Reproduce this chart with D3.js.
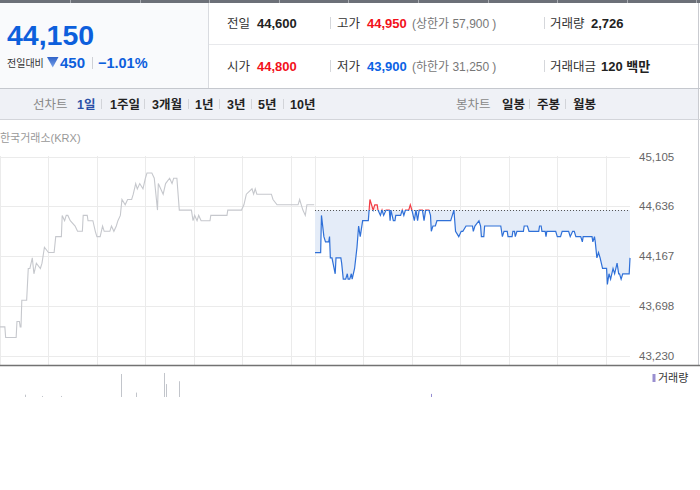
<!DOCTYPE html>
<html><head><meta charset="utf-8">
<script src="https://cdn.jsdelivr.net/npm/d3@7"></script>
<style>body{margin:0;background:#fff}svg{display:block}text{font-family:"Liberation Sans","Noto Sans CJK KR",sans-serif}</style>
</head><body><svg id="c" width="700" height="490"></svg>
<script>
// ---------- data ----------
const prevClose = 44600;
const yTickValues = [45105, 44636, 44167, 43698, 43230];
const yTickLabels = ["45,105", "44,636", "44,167", "43,698", "43,230"];
// minutes since 09:00 of the previous session (0..389)
const prevMinutes = [0,6,7,20,21,24,25,26,27,33,35,37,40,42,45,50,52,55,60,67,69,76,77,80,82,84,87,93,96,102,103,108,109,115,118,120,124,127,129,136,138,141,144,146,149,151,155,158,163,165,168,170,173,177,180,182,188,191,193,195,196,202,205,210,213,215,219,222,237,239,241,244,246,249,260,261,281,282,299,302,305,312,314,316,318,336,338,343,369,371,373,375,378,380,389];
const prevPrices = [43500,43500,43400,43400,43550,43550,43500,43500,43750,43750,44050,44050,44150,44000,44100,44050,44100,44250,44200,44200,44350,44350,44550,44500,44550,44550,44500,44450,44400,44400,44550,44550,44500,44500,44400,44350,44350,44450,44400,44400,44450,44400,44450,44500,44550,44700,44650,44700,44700,44750,44850,44800,44850,44800,44900,44950,44950,44900,44750,44600,44850,44750,44850,44900,44850,44900,44900,44600,44600,44500,44550,44500,44550,44500,44500,44550,44550,44600,44600,44650,44750,44800,44750,44800,44750,44750,44700,44650,44650,44700,44650,44600,44550,44650,44650];
// minutes on the same axis for today's session (390..780)
const todayMinutes = [390,397,398,401,403,407,408,409,411,415,416,422,423,425,428,430,431,433,435,436,439,442,444,446,447,449,456,457,458,460,462,464,467,468,471,473,475,478,482,483,484,487,489,490,496,498,500,502,506,508,510,513,515,517,519,523,525,527,531,533,534,536,539,541,543,558,560,562,564,568,571,573,577,585,586,588,593,595,596,599,600,620,622,624,628,629,634,635,637,638,640,648,649,653,655,667,668,670,671,675,676,677,688,690,694,696,704,706,709,711,713,719,721,722,733,734,736,737,739,741,743,746,751,752,754,756,759,761,764,766,767,769,771,779,780];
const todayPrices = [44200,44200,44550,44350,44300,44300,44350,44150,44150,44000,44150,44150,44100,43950,43950,44000,43950,43950,44000,43950,44050,44250,44450,44350,44400,44500,44500,44600,44700,44650,44600,44650,44650,44600,44550,44600,44550,44600,44600,44500,44600,44500,44500,44550,44550,44600,44550,44600,44600,44650,44600,44500,44600,44500,44600,44600,44500,44600,44600,44550,44400,44450,44450,44500,44500,44500,44550,44600,44400,44350,44400,44400,44450,44450,44400,44450,44500,44450,44350,44350,44450,44450,44350,44400,44400,44350,44350,44400,44400,44350,44400,44400,44450,44450,44400,44400,44450,44450,44400,44400,44350,44400,44400,44350,44350,44400,44400,44350,44400,44400,44350,44350,44300,44350,44350,44300,44350,44300,44150,44200,44150,44050,44050,43900,44000,43950,44050,44000,44100,44000,44000,43950,44000,44000,44150];
const volMinutes = [31,52,76,150,168,203,205,222,533];
const volValues = [45,20,20,445,85,465,250,305,60];
const volSession = ["prev","prev","prev","prev","prev","prev","prev","prev","today"];
const hourMarks = [60,120,180,240,300,360,390,450,510,570,630,690,750];
const periodTabs = ["1일","1주일","3개월","1년","3년","5년","10년"];
const candleTabs = ["일봉","주봉","월봉"];

// ---------- drawing ----------
const svg = d3.select("#c");
const F = '"Liberation Sans","Noto Sans CJK KR",sans-serif';

// top strip
svg.append("rect").attr("x",0).attr("y",0).attr("width",700).attr("height",3).attr("fill","#6c7078");
d3.range(70,700,69.6).forEach(x=>svg.append("rect").attr("x",Math.round(x)).attr("y",0).attr("width",1).attr("height",3).attr("fill","#a9acb2"));

// left price panel
svg.append("rect").attr("x",0).attr("y",3).attr("width",208).attr("height",85).attr("fill","#f9fafc");
svg.append("line").attr("x1",208.5).attr("x2",208.5).attr("y1",3).attr("y2",88).attr("stroke","#d9dbe0");
svg.append("line").attr("x1",209).attr("x2",698).attr("y1",44.5).attr("y2",44.5).attr("stroke","#e8e9ec");
svg.append("line").attr("x1",698.5).attr("x2",698.5).attr("y1",3).attr("y2",366).attr("stroke","#c9cbd0");

svg.append("text").attr("x",7).attr("y",45).attr("font-size",28.5).attr("font-weight","bold").attr("fill","#0d5fdc").text("44,150");
svg.append("text").attr("x",7).attr("y",67).attr("font-size",10).attr("fill","#333").text("전일대비");
const g0 = svg.append("defs").append("linearGradient").attr("id","tri").attr("x1",0).attr("x2",0).attr("y1",0).attr("y2",1);
g0.append("stop").attr("offset",0).attr("stop-color","#2f62c8");
g0.append("stop").attr("offset",1).attr("stop-color","#7aa3ea");
svg.append("path").attr("d","M47,57 L58.5,57 L52.75,67.5 Z").attr("fill","url(#tri)");
svg.append("text").attr("x",60).attr("y",68).attr("font-size",15).attr("font-weight","bold").attr("fill","#0d5fdc").text("450");
svg.append("line").attr("x1",92.5).attr("x2",92.5).attr("y1",57).attr("y2",69).attr("stroke","#cfd1d6");
svg.append("text").attr("x",98).attr("y",68).attr("font-size",14.5).attr("font-weight","bold").attr("fill","#0d5fdc").text("−1.01%");

// right info rows
const red="#f2111b", blue="#0b62e4", dark="#222";
const rows=[
 {y:28, items:[["전일",227,"44,600",257,dark,null],["고가",337,"44,950",367,red,["상한가 57,900",412]],["거래량",550,"2,726",591,dark,null]]},
 {y:71, items:[["시가",227,"44,800",257,red,null],["저가",337,"43,900",367,blue,["하한가 31,250",412]],["거래대금",550,"120 백만",601,dark,null]]}
];
rows.forEach(r=>{
  r.items.forEach(it=>{
    svg.append("text").attr("x",it[1]).attr("y",r.y).attr("font-size",12.5).attr("fill","#333").text(it[0]);
    svg.append("text").attr("x",it[3]).attr("y",r.y).attr("font-size",13).attr("font-weight","bold").attr("fill",it[4]).text(it[2]);
    if(it[5]){
      const t=svg.append("text").attr("x",it[5][1]).attr("y",r.y).attr("font-size",12).attr("fill","#777");
      t.append("tspan").text("("+it[5][0]);
      t.append("tspan").attr("dx",3).text(")");
    }
  });
  [330.5,544.5].forEach(x=>svg.append("line").attr("x1",x).attr("x2",x).attr("y1",r.y-11).attr("y2",r.y+1).attr("stroke","#d5d7db"));
});

// tab bar
svg.append("rect").attr("x",0).attr("y",88).attr("width",698).attr("height",32).attr("fill","#eff1f6");
svg.append("line").attr("x1",0).attr("x2",700).attr("y1",88.5).attr("y2",88.5).attr("stroke","#c5c8ce");
svg.append("line").attr("x1",0).attr("x2",700).attr("y1",119.5).attr("y2",119.5).attr("stroke","#d3d5da");
svg.append("text").attr("x",33).attr("y",108.5).attr("font-size",12.5).attr("fill","#888").text("선차트");
const ptx=[77,110,152,195,227,258,290], psep=[101,144,188,219,251,283];
periodTabs.forEach((t,i)=>svg.append("text").attr("x",ptx[i]).attr("y",108.5).attr("font-size",12.5).attr("font-weight","bold").attr("fill",i===0?"#2b4fa6":"#222").text(t));
psep.forEach(x=>svg.append("line").attr("x1",x+.5).attr("x2",x+.5).attr("y1",99).attr("y2",109).attr("stroke","#d2d4d9"));
svg.append("text").attr("x",456).attr("y",108.5).attr("font-size",12.5).attr("fill","#888").text("봉차트");
const ctx=[502,537,573], csep=[529,565];
candleTabs.forEach((t,i)=>svg.append("text").attr("x",ctx[i]).attr("y",108.5).attr("font-size",12.5).attr("font-weight","bold").attr("fill","#222").text(t));
csep.forEach(x=>svg.append("line").attr("x1",x+.5).attr("x2",x+.5).attr("y1",99).attr("y2",109).attr("stroke","#d2d4d9"));

svg.append("text").attr("x",0).attr("y",142).attr("font-size",11).attr("fill","#999").text("한국거래소(KRX)");

// scales
const x = d3.scaleLinear().domain([0,780]).range([0,630]);
const y = d3.scaleLinear().domain([43230,45105]).range([355.5,156.5]);
const vy = d3.scaleLinear().domain([0,600]).range([397,366]);

// grid
const grid = svg.append("g");
grid.selectAll("line.h").data(yTickValues).join("line").attr("x1",0).attr("x2",630)
  .attr("y1",d=>Math.round(y(d))+.5).attr("y2",d=>Math.round(y(d))+.5).attr("stroke","#ebebeb");
grid.selectAll("line.v").data([0].concat(hourMarks)).join("line")
  .attr("x1",d=>Math.round(x(d))+.5).attr("x2",d=>Math.round(x(d))+.5).attr("y1",156).attr("y2",365).attr("stroke","#ebebeb");

// y axis labels
const yAxis = d3.axisRight(y).tickValues(yTickValues).tickFormat((d,i)=>yTickLabels[i]).tickSize(0).tickPadding(0);
const ga = svg.append("g").attr("transform","translate(639,0)").call(yAxis);
ga.select(".domain").remove();
ga.selectAll("text").attr("font-size",11.5).attr("fill","#666").attr("font-family",F);

// previous session line
const prev = prevMinutes.map((m,i)=>({m,p:prevPrices[i]}));
const today = todayMinutes.map((m,i)=>({m,p:todayPrices[i]}));
const line = d3.line().x(d=>x(d.m)).y(d=>y(d.p));
svg.append("path").datum(prev).attr("d",line).attr("fill","none").attr("stroke","#c6c8cd").attr("stroke-width",1.1);

// clips above / below previous close
const defs = svg.append("defs");
const yc = y(prevClose);
defs.append("clipPath").attr("id","below").append("rect").attr("x",0).attr("y",yc).attr("width",700).attr("height",400);
defs.append("clipPath").attr("id","above").append("rect").attr("x",0).attr("y",0).attr("width",700).attr("height",yc);

const area = d3.area().x(d=>x(d.m)).y0(yc).y1(d=>y(d.p));
svg.append("path").datum(today).attr("d",area).attr("fill","#e4ecf8").attr("clip-path","url(#below)");
svg.append("path").datum(today).attr("d",area).attr("fill","#fde9e9").attr("clip-path","url(#above)");
svg.append("line").attr("x1",x(390)).attr("x2",x(780)).attr("y1",Math.round(yc)+.5).attr("y2",Math.round(yc)+.5)
  .attr("stroke","#555").attr("stroke-dasharray","1,2");
svg.append("path").datum(today).attr("d",line).attr("fill","none").attr("stroke","#2f70d8").attr("stroke-width",1.2).attr("clip-path","url(#below)");
svg.append("path").datum(today).attr("d",line).attr("fill","none").attr("stroke","#f23c44").attr("stroke-width",1.2).attr("clip-path","url(#above)");

// bottom separator
svg.append("line").attr("x1",0).attr("x2",700).attr("y1",365.5).attr("y2",365.5).attr("stroke","#727272").attr("stroke-width",1.6);

// volume
svg.selectAll("line.vol").data(volMinutes).join("line")
  .attr("x1",(d)=>Math.round(x(d))+.5).attr("x2",(d)=>Math.round(x(d))+.5)
  .attr("y1",397).attr("y2",(d,i)=>vy(volValues[i]))
  .attr("stroke",(d,i)=>volSession[i]==="prev"?"#c2c5cb":"#958dd2");
svg.append("rect").attr("x",652.5).attr("y",374).attr("width",3).attr("height",8).attr("fill","#9a8fd0");
svg.append("text").attr("x",658).attr("y",382).attr("font-size",11).attr("fill","#333").text("거래량");
</script></body></html>
